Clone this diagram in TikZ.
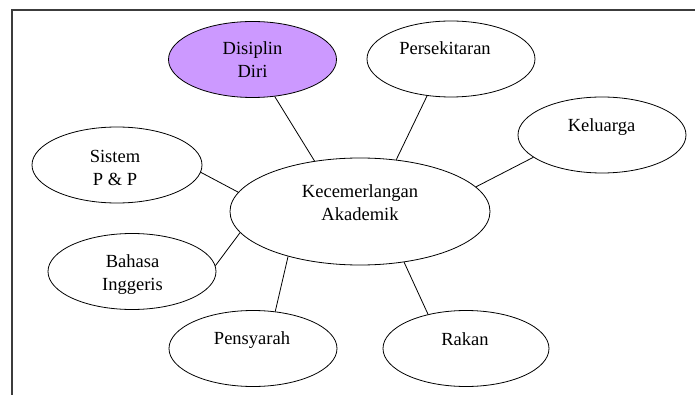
\documentclass[tikz,border=0pt]{standalone}
\usepackage{fontspec}
\setmainfont{Liberation Serif}
\usetikzlibrary{shapes.geometric}

\definecolor{lilac}{RGB}{204,153,255}
\definecolor{framegray}{RGB}{60,60,60}

\tikzset{
  bubble/.style={draw, ellipse, line width=0.8pt, inner sep=0pt,
    minimum width=168pt, minimum height=76pt},
  bubbletext/.style={align=center, inner sep=0pt,
    font=\fontsize{18.5}{23}\selectfont},
  link/.style={line width=0.8pt}
}

\begin{document}
\begin{tikzpicture}[x=1pt,y=-1pt]
\useasboundingbox (0,0) rectangle (695,395);
%\draw[step=50,gray,very thin] (0,0) grid (695,395);

% frame, only top and left edges show
\draw[line width=1.5pt, framegray] (12,395) -- (12,10) -- (695,10);

\node[bubble, minimum width=260pt, minimum height=107pt] (cen) at (360,211.5) {};
\node[bubble, fill=lilac] (dis) at (252.5,59.5) {};
\node[bubble] (per) at (451,59) {};
\node[bubble] (kel) at (602,135) {};
\node[bubble, minimum width=170pt] (sis) at (117,165) {};
\node[bubble] (bah) at (132,271.5) {};
\node[bubble] (pen) at (253,348.5) {};
\node[bubble, minimum width=166pt] (rak) at (466,348.5) {};

\node[bubbletext] (centext) at (360,203) {Kecemerlangan\\Akademik};
\node[bubbletext] (distext) at (252.5,60) {Disiplin\\Diri};
\node[bubbletext] (pertext) at (445,48) {Persekitaran};
\node[bubbletext] (keltext) at (601.5,127) {Keluarga};
\node[bubbletext] (sistext) at (115,168) {Sistem\\P \& P};
\node[bubbletext] (bahtext) at (132.5,275) {Bahasa\\Inggeris};
\node[bubbletext] (pentext) at (252,340) {Pensyarah};
\node[bubbletext] (raktext) at (465,339) {Rakan};

\draw[link] (dis.-59) -- (cen.132);
\draw[link] (per.237.7) -- (cen.55.3);
\draw[link] (kel.198) -- (cen.12);
\draw[link] (sis.-5) -- (cen.171.4);
\draw[link] (bah.4.5) -- (cen.190);
\draw[link] (pen.59) -- (cen.212.6);
\draw[link] (rak.138) -- (cen.311);

\end{tikzpicture}
\end{document}
